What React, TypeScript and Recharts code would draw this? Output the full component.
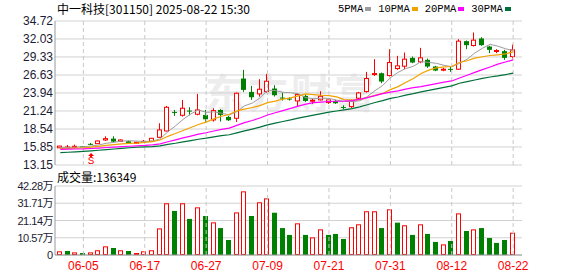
import React from 'react';
import {
  ComposedChart,
  Bar,
  Line,
  XAxis,
  YAxis,
  CartesianGrid,
  ReferenceLine,
  ReferenceDot,
} from 'recharts';

const stockName = '中一科技';
const stockCode = '301150';
const stamp = '2025-08-22 15:30';

const dates = [
  '05-30', '06-03', '06-04', '06-05', '06-06', '06-09', '06-10', '06-11', '06-12', '06-13',
  '06-16', '06-17', '06-18', '06-19', '06-20', '06-23', '06-24', '06-25', '06-26', '06-27',
  '06-30', '07-01', '07-02', '07-03', '07-04', '07-07', '07-08', '07-09', '07-10', '07-11',
  '07-14', '07-15', '07-16', '07-17', '07-18', '07-21', '07-22', '07-23', '07-24', '07-25',
  '07-28', '07-29', '07-30', '07-31', '08-01', '08-04', '08-05', '08-06', '08-07', '08-08',
  '08-11', '08-12', '08-13', '08-14', '08-15', '08-18', '08-19', '08-20', '08-21', '08-22',
];

const opens = [
  15.72, 15.80, 15.85, 15.95, 16.32, 16.35, 16.90, 17.10, 16.70, 16.70,
  16.45, 16.55, 16.70, 17.30, 18.24, 21.10, 20.60, 21.30, 20.75, 20.65,
  19.90, 21.40, 20.35, 20.15, 26.10, 24.10, 23.80, 24.15, 24.60, 23.25,
  23.10, 22.75, 23.50, 22.70, 22.90, 22.50, 22.75, 21.85, 21.90, 23.15,
  24.15, 26.75, 26.90, 26.55, 27.60, 27.95, 29.20, 28.60, 28.90, 27.90,
  27.40, 27.55, 27.50, 31.70, 31.05, 32.10, 30.90, 30.20, 30.20, 29.40,
];
const highs = [
  16.02, 16.15, 16.20, 16.00, 16.45, 16.80, 17.45, 17.45, 17.00, 16.80,
  16.60, 16.90, 17.20, 19.40, 22.00, 21.40, 22.90, 21.80, 23.80, 21.40,
  21.65, 21.50, 20.50, 24.00, 27.40, 25.00, 26.00, 26.80, 25.10, 24.00,
  23.30, 23.90, 23.70, 23.15, 24.20, 23.10, 22.90, 22.10, 22.95, 24.10,
  27.10, 29.00, 27.00, 30.50, 29.50, 30.00, 29.40, 30.70, 29.10, 28.00,
  27.70, 27.90, 32.00, 31.80, 33.00, 32.30, 31.00, 30.50, 30.40, 31.20,
];
const lows = [
  15.70, 15.70, 15.75, 15.85, 16.15, 16.30, 16.75, 16.60, 16.60, 16.40,
  16.40, 16.50, 16.60, 17.20, 18.20, 20.50, 20.40, 20.60, 20.60, 19.60,
  19.65, 19.65, 19.75, 19.60, 24.10, 22.90, 23.40, 24.00, 23.40, 22.80,
  22.80, 22.00, 22.60, 22.30, 22.80, 22.30, 22.30, 21.50, 21.70, 22.90,
  24.00, 26.50, 25.40, 26.40, 27.40, 27.50, 28.40, 28.40, 27.70, 27.20,
  27.20, 27.10, 27.40, 30.50, 30.90, 31.00, 29.90, 29.90, 28.90, 29.10,
];
const closes = [
  15.98, 15.85, 15.95, 15.90, 16.30, 16.75, 17.10, 16.65, 16.90, 16.45,
  16.55, 16.70, 17.15, 18.40, 21.80, 20.95, 21.65, 21.20, 21.40, 20.00,
  21.30, 20.65, 19.85, 23.90, 24.40, 23.30, 24.50, 25.70, 23.60, 23.10,
  23.00, 23.70, 22.75, 22.85, 23.45, 22.90, 22.40, 21.80, 22.75, 23.95,
  26.10, 26.85, 25.65, 28.50, 28.00, 29.00, 28.50, 29.20, 27.90, 27.30,
  27.50, 27.45, 31.70, 31.10, 31.85, 31.10, 30.40, 30.30, 29.20, 30.40,
];
// 成交量（手）
const volumes = [
  22500, 24500, 16000, 12000, 16000, 29000, 53000, 43000, 29000, 24500,
  12000, 22500, 29000, 163000, 317000, 270000, 317000, 221000, 292000, 239000,
  200000, 165000, 92000, 261000, 390000, 239000, 323000, 347000, 259000, 165000,
  123000, 194000, 123000, 108000, 157000, 123000, 129000, 98000, 170000, 188000,
  268000, 268000, 165000, 280000, 198000, 182000, 123000, 188000, 129000, 80000,
  65000, 86000, 255000, 147000, 157000, 165000, 104000, 74000, 92000, 136349,
];

// moving-average values for the first bars (before a full window exists)
const ma5Head = [15.75, 15.78, 15.83, 15.87];
const ma10Head = [15.60, 15.64, 15.69, 15.73, 15.82, 15.95, 16.09, 16.19, 16.31];
const ma20Head = [
  15.50, 15.52, 15.55, 15.57, 15.62, 15.69, 15.77, 15.83, 15.91, 15.96,
  16.02, 16.08, 16.17, 16.31, 16.63, 16.91, 17.21, 17.48, 17.77,
];
const ma30Head = [
  15.00, 15.06, 15.13, 15.19, 15.27, 15.36, 15.46, 15.55, 15.65, 15.73,
  15.81, 15.86, 15.91, 16.01, 16.23, 16.41, 16.62, 16.81, 17.01, 17.17,
  17.36, 17.54, 17.68, 17.97, 18.26, 18.53, 18.82, 19.15, 19.42,
];

const priceTicks = [13.15, 15.85, 18.54, 21.24, 23.94, 26.63, 29.33, 32.03, 34.72];
const volumeTicks = [0, 105700, 211400, 317100, 422800];
const dateTicks = ['06-05', '06-17', '06-27', '07-09', '07-21', '07-31', '08-12', '08-22'];
const signalDate = '06-06';
const signalPrice = 14.95;
const signalText = 'S';

const legendLabels = ['5PMA', '10PMA', '20PMA', '30PMA'];
const legendKeys = ['ma5', 'ma10', 'ma20', 'ma30'];

const RED = '#ff0000';
const GREEN = '#008000';
const MA_COLORS = ['#9c9c9c', '#f2a200', '#ff00ff', '#00703a'];
const FRAME = '#999999';
const GRID = '#d2d2d2';
const DASH = '#c8c8c8';
const LABEL = '#1c1c34';

function movingAverage(values: number[], n: number, head: number[]) {
  return values.map((_, i) => {
    if (i < n - 1) return head[i];
    let s = 0;
    for (let k = i - n + 1; k <= i; k++) s += values[k];
    return s / n;
  });
}

const ma5 = movingAverage(closes, 5, ma5Head);
const ma10 = movingAverage(closes, 10, ma10Head);
const ma20 = movingAverage(closes, 20, ma20Head);
const ma30 = movingAverage(closes, 30, ma30Head);

const rows = dates.map((date, i) => ({
  date,
  open: opens[i],
  high: highs[i],
  low: lows[i],
  close: closes[i],
  volume: volumes[i],
  volUp: i === 0 ? closes[0] >= opens[0] : closes[i] >= closes[i - 1],
  ma5: ma5[i],
  ma10: ma10[i],
  ma20: ma20[i],
  ma30: ma30[i],
}));

const Candle = (props: any) => {
  const { x, y, width, height, payload } = props;
  if (x == null || y == null || !payload) return null;
  const top = Math.min(y, y + height);
  const h = Math.abs(height);
  const { open, close, high, low } = payload;
  const k = high > low ? h / (high - low) : 0;
  const yo = top + (high - open) * k;
  const yc = top + (high - close) * k;
  const cx = Math.round(x + width / 2) - 0.5;
  const up = close >= open;
  const color = up ? RED : GREEN;
  const bTop = Math.min(yo, yc);
  const bH = Math.max(Math.abs(yo - yc), 1);
  return (
    <g>
      <line x1={cx} x2={cx} y1={top} y2={top + h} stroke={color} strokeWidth={1} />
      {up ? (
        <rect x={cx - 2} y={bTop} width={4} height={Math.max(bH, 1)} fill="#ffffff" stroke={color} strokeWidth={1} />
      ) : (
        <rect x={cx - 2.5} y={bTop} width={5} height={bH} fill={color} stroke="none" />
      )}
    </g>
  );
};

const VolBar = (props: any) => {
  const { x, y, width, height, payload } = props;
  if (x == null || y == null || !payload) return null;
  const top = Math.min(y, y + height);
  const h = Math.abs(height);
  const cx = Math.round(x + width / 2) - 0.5;
  if (payload.volUp) {
    return <rect x={cx - 2} y={top + 0.5} width={4} height={Math.max(h - 1, 0.5)} fill="#ffffff" stroke={RED} strokeWidth={1} />;
  }
  return <rect x={cx - 2.5} y={top} width={5} height={h} fill={GREEN} />;
};

const SignalMark = (props: any) => {
  const { cx, cy } = props;
  if (cx == null || cy == null) return null;
  return (
    <g>
      <path d={`M${cx},${cy} L${cx + 3},${cy + 3} L${cx + 1},${cy + 3} L${cx + 1},${cy + 4.5} L${cx - 1},${cy + 4.5} L${cx - 1},${cy + 3} L${cx - 3},${cy + 3} Z`} fill={RED} />
      <text x={cx} y={cy + 11.5} textAnchor="middle" fill={RED} fontSize={11} fontFamily="Liberation Mono, monospace">
        {signalText}
      </text>
    </g>
  );
};

const DateTick = (props: any) => {
  const { x, y, payload } = props;
  if (!payload || !dateTicks.includes(payload.value)) return null;
  return (
    <text x={x} y={y + 7} textAnchor="middle" fill={RED} fontSize={12} fontFamily="Liberation Sans, Arial, sans-serif">
      {payload.value}
    </text>
  );
};

const VolumeTick = (props: any) => {
  const { x, y, payload } = props;
  if (!payload) return null;
  const v = payload.value as number;
  const label = v === 0 ? '0' : `${(v / 10000).toFixed(2)}万`;
  return (
    <text
      x={x}
      y={y + 4}
      textAnchor="end"
      fill={LABEL}
      fontSize={11}
      letterSpacing={v === 0 ? 0 : -0.5}
      fontFamily="'Liberation Sans', 'Noto Sans CJK SC', sans-serif"
    >
      {label}
    </text>
  );
};

const xPadding = { left: 1.5, right: 5 };

export default function App() {
  return (
    <div style={{ position: 'absolute', left: 0, top: 0, width: 578, height: 276, background: '#ffffff', overflow: 'hidden' }}>
      <div
        style={{
          position: 'absolute',
          left: 205,
          top: 70,
          fontSize: 40,
          fontWeight: 700,
          color: '#ededed',
          fontFamily: "'Noto Sans CJK SC', sans-serif",
          letterSpacing: 3,
          whiteSpace: 'nowrap',
          lineHeight: '42px',
        }}
      >
        东方财富
      </div>

      <div
        style={{
          position: 'absolute',
          left: 57,
          top: 1,
          fontSize: 12,
          lineHeight: '16px',
          color: '#000',
          fontFamily: "'Noto Sans CJK SC', sans-serif",
          whiteSpace: 'pre',
        }}
      >
        {`${stockName}[${stockCode}] ${stamp}`}
      </div>

      <div style={{ position: 'absolute', left: 338, top: 2, display: 'flex', alignItems: 'center', height: 14 }}>
        {legendLabels.map((lab, i) => (
          <div key={lab} style={{ display: 'flex', alignItems: 'center', marginRight: 7 }}>
            <span style={{ fontFamily: "'Liberation Mono', monospace", fontSize: 10.5, color: '#000', lineHeight: '14px' }}>{lab}</span>
            <span style={{ display: 'inline-block', width: 6, height: 4, background: MA_COLORS[i], marginLeft: 2 }} />
          </div>
        ))}
      </div>

      <div style={{ position: 'absolute', left: 0, top: 0 }}>
        <ComposedChart width={578} height={180} data={rows} margin={{ top: 21, right: 56, bottom: 15, left: 0 }}>
          <CartesianGrid vertical={false} stroke={GRID} />
          <XAxis dataKey="date" type="category" padding={xPadding} tick={false} tickLine={false} axisLine={{ stroke: FRAME }} height={0} />
          <XAxis xAxisId="top" dataKey="date" type="category" orientation="top" padding={xPadding} tick={false} tickLine={false} axisLine={{ stroke: FRAME }} height={0} />
          <YAxis
            domain={[13.15, 34.72]}
            ticks={priceTicks}
            interval={0}
            width={55}
            tickSize={0}
            tickMargin={2}
            tickLine={{ stroke: 'transparent' }}
            axisLine={{ stroke: FRAME }}
            tick={{ fill: LABEL, fontSize: 12, fontFamily: 'Liberation Sans, Arial, sans-serif' }}
            tickFormatter={(v: number) => v.toFixed(2)}
          />
          <YAxis yAxisId="right" orientation="right" width={0} domain={[0, 1]} tick={false} tickLine={false} axisLine={{ stroke: FRAME }} />
          {dateTicks.map((d) => (
            <ReferenceLine key={d} x={d} stroke={DASH} strokeDasharray="4 3" />
          ))}
          <Bar dataKey={(r: any) => [r.low, r.high]} barSize={5} shape={(p: any) => <Candle {...p} />} isAnimationActive={false} />
          {legendKeys.map((k, i) => (
            <Line
              key={k}
              dataKey={k}
              type="linear"
              stroke={MA_COLORS[i]}
              strokeWidth={i === 0 ? 1 : 1.2}
              dot={false}
              activeDot={false}
              isAnimationActive={false}
            />
          ))}
          <ReferenceDot x={signalDate} y={signalPrice} shape={(p: any) => <SignalMark {...p} />} />
        </ComposedChart>
      </div>

      <div
        style={{
          position: 'absolute',
          left: 57,
          top: 169,
          fontSize: 12,
          lineHeight: '16px',
          color: '#000',
          fontFamily: "'Noto Sans CJK SC', sans-serif",
          whiteSpace: 'pre',
        }}
      >
        {`成交量:${volumes[volumes.length - 1]}`}
      </div>

      <div style={{ position: 'absolute', left: 0, top: 166 }}>
        <ComposedChart width={578} height={110} data={rows} margin={{ top: 20, right: 56, bottom: 0, left: 0 }}>
          <CartesianGrid vertical={false} stroke={GRID} />
          <XAxis
            dataKey="date"
            type="category"
            padding={xPadding}
            height={21}
            interval={0}
            tickSize={6}
            tickMargin={2}
            tickLine={{ stroke: 'transparent' }}
            axisLine={{ stroke: FRAME }}
            tick={(p: any) => <DateTick {...p} />}
          />
          <XAxis xAxisId="top" dataKey="date" type="category" orientation="top" padding={xPadding} tick={false} tickLine={false} axisLine={{ stroke: FRAME }} height={0} />
          <YAxis
            domain={[0, 422800]}
            ticks={volumeTicks}
            interval={0}
            width={55}
            tickSize={0}
            tickMargin={2}
            tickLine={{ stroke: 'transparent' }}
            axisLine={{ stroke: FRAME }}
            tick={(p: any) => <VolumeTick {...p} />}
          />
          <YAxis yAxisId="right" orientation="right" width={0} domain={[0, 1]} tick={false} tickLine={false} axisLine={{ stroke: FRAME }} />
          {dateTicks.map((d) => (
            <ReferenceLine key={d} x={d} stroke={DASH} strokeDasharray="4 3" />
          ))}
          <Bar dataKey="volume" barSize={5} shape={(p: any) => <VolBar {...p} />} isAnimationActive={false} />
        </ComposedChart>
      </div>
    </div>
  );
}
